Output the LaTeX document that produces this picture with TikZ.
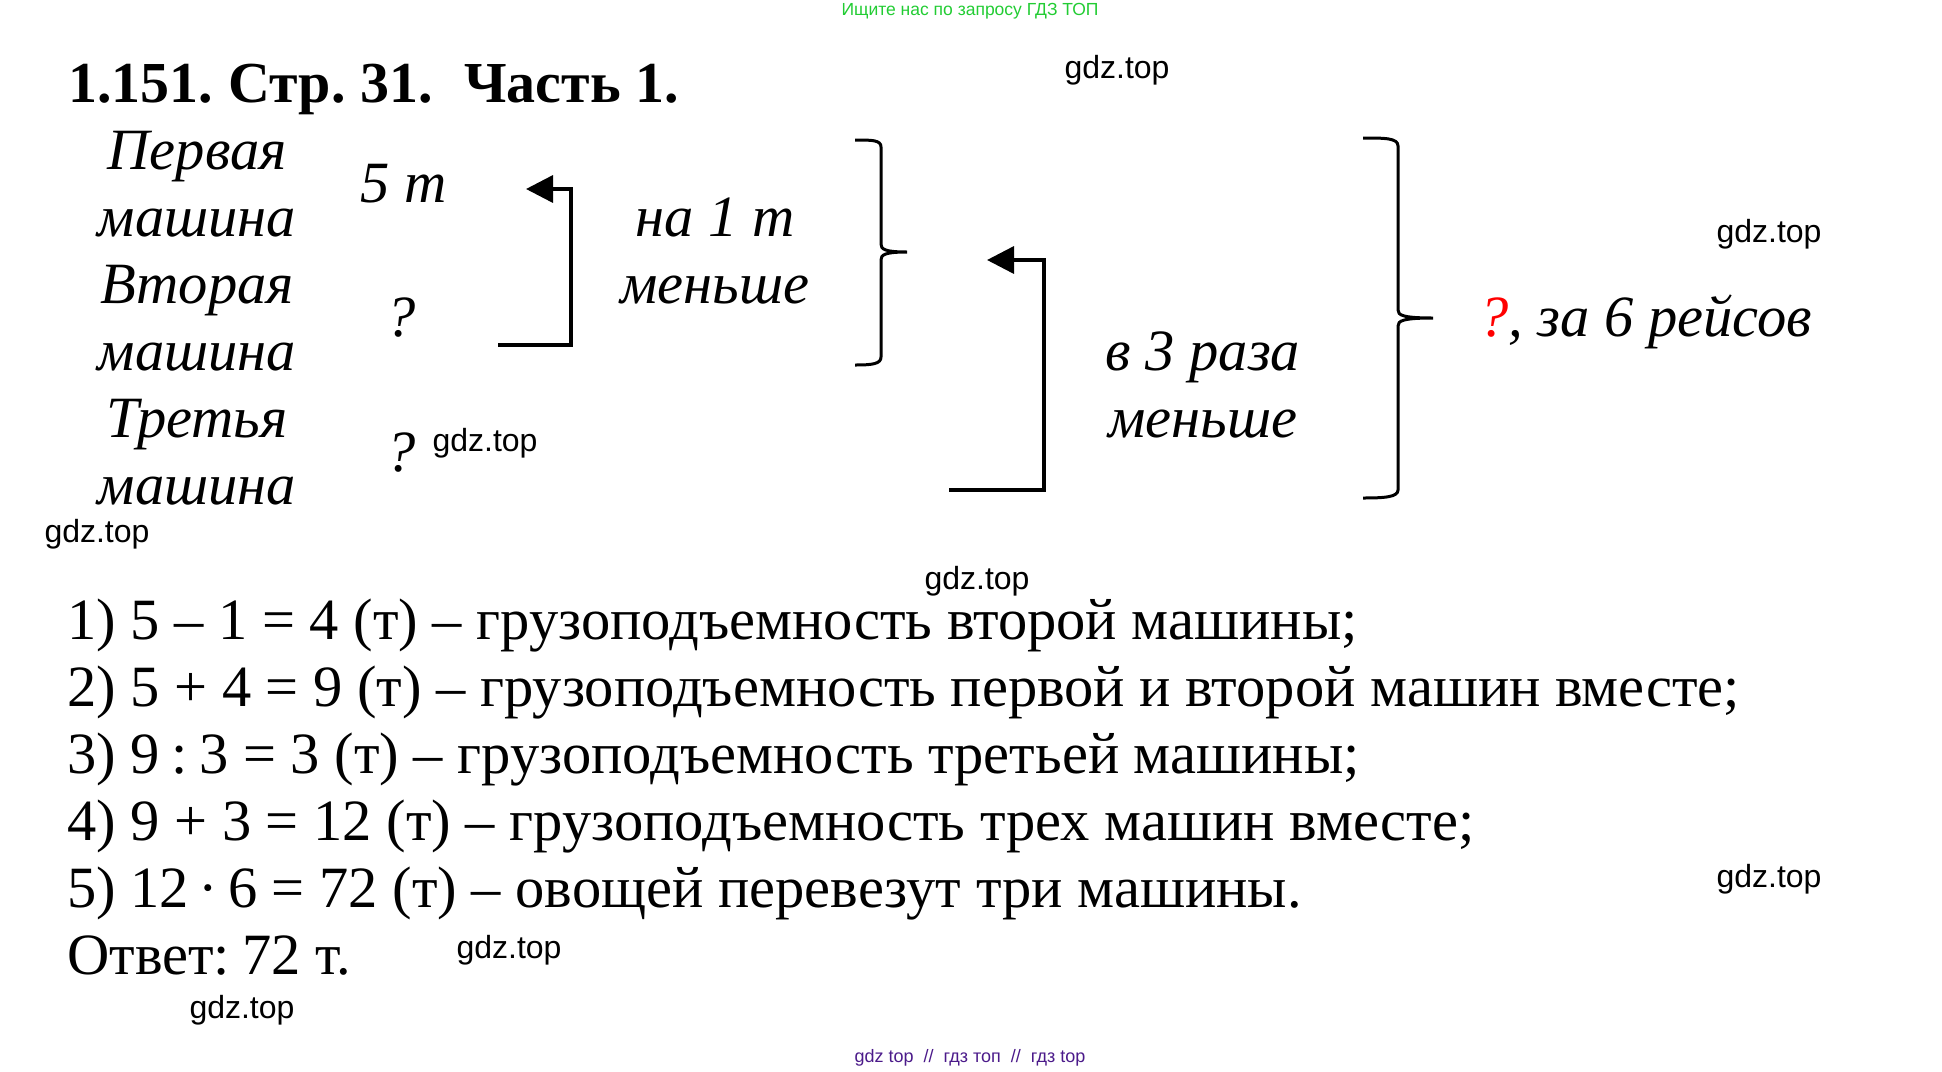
\documentclass[tikz,border=0pt]{standalone}
\usepackage{fontspec}
\setmainfont{Liberation Serif}
\newfontfamily\gdzfont{Liberation Sans}
\usetikzlibrary{arrows.meta}
\definecolor{topgreen}{RGB}{34,204,51}
\definecolor{botpurple}{RGB}{75,26,138}
\begin{document}
\begin{tikzpicture}[x=1pt, y=-1pt,
    title/.style = {anchor=base west, inner sep=0, font=\fontsize{58}{67}\selectfont\bfseries},
    hand/.style  = {anchor=base, inner sep=0, font=\fontsize{58.5}{67}\selectfont\itshape},
    body/.style  = {anchor=base west, inner sep=0, font=\fontsize{58.5}{67}\selectfont},
    wmark/.style = {inner sep=0, font=\fontsize{32}{36}\selectfont\gdzfont},
    linkarrow/.style = {-{Triangle[length=27pt,width=27pt]}, line width=3.5pt},
    curly/.style = {line width=3pt}]
    \useasboundingbox (0,0) rectangle (1942,1071);

    \node[inner sep=0, text=topgreen, font=\fontsize{17.5}{20}\selectfont\gdzfont] (top) at (970,11) {Ищите нас по запросу ГДЗ ТОП};
    \node[inner sep=0, text=botpurple, font=\fontsize{18}{20}\selectfont\gdzfont] (bot) at (970,1058) {gdz top \ // \ гдз топ \ // \ гдз top};

    \node[title] (head) at (68,102) {\spaceskip=10.5pt 1.151. Стр. 31.\hspace{31pt}Часть\hspace{15pt}1.};

    \node[hand] (n1a) at (197,169) {Первая};
    \node[hand] (n1b) at (197,236) {машина};
    \node[hand] (n2a) at (197,303) {Вторая};
    \node[hand] (n2b) at (197,370) {машина};
    \node[hand] (n3a) at (197,437) {Третья};
    \node[hand] (n3b) at (197,504) {машина};

    \node[hand] (v1) at (404,202) {5 т};
    \node[hand] (v2) at (401,336) {?};
    \node[hand] (v3) at (401,471) {?};

    \node[hand] (d1a) at (715,236) {на 1 т};
    \node[hand] (d1b) at (715,303) {меньше};
    \node[hand] (d2a) at (1203,370) {в 3 раза};
    \node[hand] (d2b) at (1203,437) {меньше};

    \node[hand, anchor=base west] (res) at (1479,336) {\textcolor{red}{?}, за 6 рейсов};

    \coordinate (a1from) at (498,345);
    \coordinate (a1bend) at (571,189);
    \coordinate (a1to)   at (526,189);
    \draw[linkarrow] (a1from) -| (a1bend) -- (a1to);

    \coordinate (a2from) at (949,490);
    \coordinate (a2bend) at (1044,260);
    \coordinate (a2to)   at (987,260);
    \draw[linkarrow] (a2from) -| (a2bend) -- (a2to);

    \coordinate (b1top) at (855,140);
    \coordinate (b1tip) at (907,252);
    \coordinate (b1bot) at (855,365);
    \draw[curly] (b1top) .. controls (872,140) and (881,140) .. (881,147) -- (881,244)
       .. controls (881,249) and (884,252) .. (b1tip) .. controls (884,252) and (881,255) .. (881,260)
       -- (881,357) .. controls (881,364) and (872,365) .. (b1bot);

    \coordinate (b2top) at (1363,138);
    \coordinate (b2tip) at (1433,318);
    \coordinate (b2bot) at (1363,498);
    \draw[curly] (b2top) .. controls (1385,138) and (1398,138) .. (1398,146) -- (1398,310)
       .. controls (1398,315) and (1402,318) .. (b2tip) .. controls (1402,318) and (1398,321) .. (1398,326)
       -- (1398,490) .. controls (1398,497) and (1385,498) .. (b2bot);

    \node[body] (l1) at (67,639) {1) 5 – 1 = 4 (т) – грузоподъемность второй машины;};
    \node[body] (l2) at (67,706) {2) 5 + 4 = 9 (т) – грузоподъемность первой и второй машин вместе;};
    \node[body] (l3) at (67,773) {3) 9\hspace{11.7pt}:\hspace{11.7pt}3 = 3 (т) – грузоподъемность третьей машины;};
    \node[body] (l4) at (67,840) {4) 9 + 3 = 12 (т) – грузоподъемность трех машин вместе;};
    \node[body] (l5) at (67,907) {5) 12\,·\,6 = 72 (т) – овощей перевезут три машины.};
    \node[body] (l6) at (67,974) {Ответ:\hspace{12.5pt}72 т.};

    \node[wmark] (g1) at (1117,70)  {gdz.top};
    \node[wmark] (g2) at (1769,234) {gdz.top};
    \node[wmark] (g3) at (485,443)  {gdz.top};
    \node[wmark] (g4) at (97,534)   {gdz.top};
    \node[wmark] (g5) at (977,581)  {gdz.top};
    \node[wmark] (g6) at (1769,879) {gdz.top};
    \node[wmark] (g7) at (509,950)  {gdz.top};
    \node[wmark] (g8) at (242,1010) {gdz.top};
\end{tikzpicture}
\end{document}
